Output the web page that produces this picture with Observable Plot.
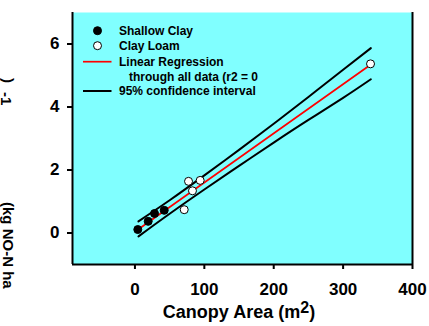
<!DOCTYPE html>
<html>
<head>
<meta charset="utf-8">
<script src="https://cdn.jsdelivr.net/npm/d3@7"></script>
<script src="https://cdn.jsdelivr.net/npm/@observablehq/plot@0.6"></script>
<style>
  html, body { margin: 0; padding: 0; background: white; }
</style>
</head>
<body>
<div id="chart"></div>
<script>
// Data
const shallowX = [4.1, 19.1, 28.2, 42.2];
const shallowY = [0.11, 0.37, 0.62, 0.72];
const loamX = [77.2, 94.0, 82.9, 71.0, 339.5];
const loamY = [1.64, 1.67, 1.34, 0.74, 5.37];
const fitX = [5, 340];
const fitY = [0.12, 5.35];
const ciX = [5, 50, 100, 150, 200, 250, 300, 340];
const ciUpper = [0.37, 1.04, 1.83, 2.64, 3.47, 4.32, 5.18, 5.87];
const ciLower = [-0.11, 0.61, 1.38, 2.13, 2.87, 3.59, 4.29, 4.88];
const xTicks = [0, 100, 200, 300, 400];
const yTicks = [0, 2, 4, 6];
const legendLabels = ["Shallow Clay", "Clay Loam", "Linear Regression", "through all data (r2 = 0", "95% confidence interval"];
const xTitle = "Canopy Area (m";
const xTitleSup = "2";
const yLabelMain = "(kg NO-N ha";
const yLabelClose = ")";
const yLabelSup = "-1";

const font = "'Liberation Sans', Arial, Helvetica, sans-serif";

const svg = Plot.plot({
  width: 429,
  height: 326,
  marginLeft: 72,
  marginRight: 17,
  marginTop: 12,
  marginBottom: 62,
  style: { fontFamily: font, fontWeight: "bold", background: "white", overflow: "visible" },
  x: { domain: [-90, 400], ticks: xTicks },
  y: { domain: [-1, 7], ticks: yTicks },
  marks: [
    Plot.frame({ fill: "#80ffff", stroke: null }),
    Plot.axisX({ ticks: xTicks, tickSize: 5, tickPadding: 13, fontSize: 17, label: null, tickFormat: d => String(d), strokeWidth: 2, fill: "black" }),
    Plot.axisY({ ticks: yTicks, tickSize: 5, tickPadding: 8, fontSize: 17, label: null, tickFormat: d => String(d), strokeWidth: 2, fill: "black" }),
    Plot.ruleX([-90, 400], { stroke: "black", strokeWidth: 2 }),
    Plot.ruleY([-1], { stroke: "black", strokeWidth: 2 }),
    Plot.line(ciX, { x: ciX, y: ciUpper, stroke: "black", strokeWidth: 2, curve: "natural" }),
    Plot.line(ciX, { x: ciX, y: ciLower, stroke: "black", strokeWidth: 2, curve: "natural" }),
    Plot.line(fitX, { x: fitX, y: fitY, stroke: "#ff0000", strokeWidth: 1.7 }),
    Plot.dot(shallowX, { x: shallowX, y: shallowY, r: 4, fill: "black", stroke: "black", strokeWidth: 1 }),
    Plot.dot(loamX, { x: loamX, y: loamY, r: 4, fill: "white", stroke: "black", strokeWidth: 1 })
  ]
});

document.getElementById("chart").appendChild(svg);

const s = d3.select(svg);
// Legend
const lg = s.append("g").attr("font-family", font).attr("font-weight", "bold").attr("font-size", 12)
  .attr("fill", "black").attr("text-anchor", "start");
lg.append("circle").attr("cx", 97.5).attr("cy", 30.7).attr("r", 4).attr("fill", "black").attr("stroke", "black");
lg.append("circle").attr("cx", 97.5).attr("cy", 45.7).attr("r", 4).attr("fill", "white").attr("stroke", "black");
lg.append("line").attr("x1", 83).attr("x2", 111.5).attr("y1", 61.7).attr("y2", 61.7).attr("stroke", "#ff0000").attr("stroke-width", 1.7);
lg.append("line").attr("x1", 83).attr("x2", 111.5).attr("y1", 91).attr("y2", 91).attr("stroke", "black").attr("stroke-width", 2);
const lx = [119, 119, 119, 129, 119];
const ly = [35, 50, 65.7, 81, 95.3];
legendLabels.forEach((t, i) => {
  lg.append("text").attr("x", lx[i]).attr("y", ly[i]).text(t);
});

// X axis title with superscript
const xt = s.append("text").attr("x", 239).attr("y", 318).attr("text-anchor", "middle")
  .attr("font-family", font).attr("font-weight", "bold").attr("font-size", 18).attr("fill", "black");
xt.append("tspan").text(xTitle);
xt.append("tspan").attr("dy", -5).attr("font-size", 16).text(xTitleSup);
xt.append("tspan").attr("dy", 5).text(")");

// Y axis title (rotated clockwise, clipped at left edge as in the reference)
const yg = s.append("g").attr("font-family", font).attr("font-weight", "bold").attr("fill", "black")
  .attr("text-anchor", "start");
yg.append("text").attr("transform", "translate(3,202) rotate(90)").attr("font-size", 15).text(yLabelMain);
yg.append("text").attr("transform", "translate(3,78) rotate(90)").attr("font-size", 15).text(yLabelClose);
yg.append("text").attr("transform", "translate(1,92) rotate(90)").attr("font-size", 15).text(yLabelSup);
</script>
</body>
</html>
